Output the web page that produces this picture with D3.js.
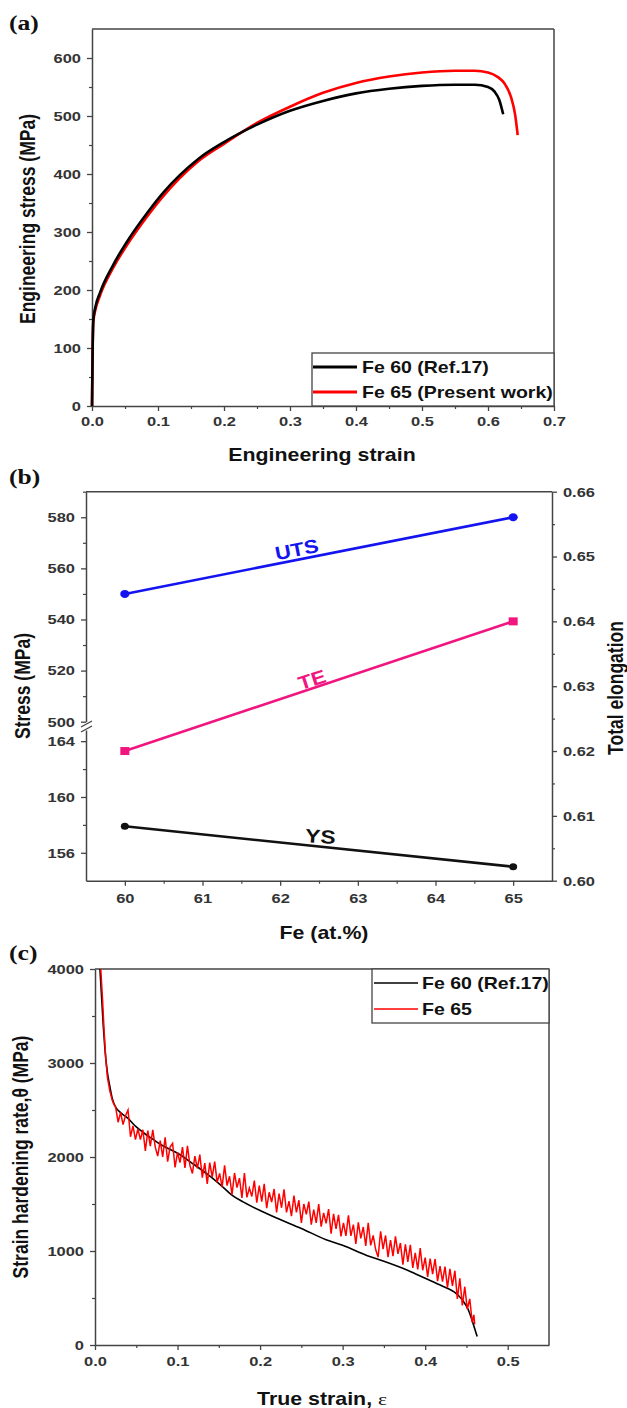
<!DOCTYPE html>
<html><head><meta charset="utf-8">
<script src="https://cdn.jsdelivr.net/npm/d3@7"></script>
<style>
body{margin:0;background:#fff;}
text{font-family:"Liberation Sans",Arial,sans-serif;font-weight:bold;}
</style></head>
<body>
<svg id="c" width="627" height="1408"></svg>
<script>
// ---------- Panel (a) data ----------
const fe60Eng = [[0,0],[0.001,100],[0.002,148],[0.005,170],[0.012,195],[0.032,243],[0.058,292],[0.083,332],[0.108,368],[0.133,398],[0.161,426],[0.2,455],[0.25,485],[0.3,509],[0.35,526],[0.4,539],[0.45,547],[0.5,552],[0.55,554],[0.58,554],[0.6,550],[0.61,542],[0.617,528],[0.623,503]];
const fe65Eng = [[0,0],[0.001,100],[0.002,145],[0.005,165],[0.012,190],[0.032,238],[0.058,286],[0.083,326],[0.108,362],[0.133,393],[0.161,422],[0.2,452],[0.25,488],[0.3,516],[0.35,540],[0.4,557],[0.45,568],[0.5,575],[0.55,578],[0.58,578],[0.6,575],[0.615,567],[0.625,556],[0.635,532],[0.641,503],[0.645,467]];
const legendA = ["Fe 60 (Ref.17)","Fe 65 (Present work)"];

// ---------- Panel (b) data ----------
const feContent = [60,65];
const utsVals = [550,580];
const teVals = [0.62,0.64];
const ysVals = [157.9,155.0];

// ---------- Panel (c) data ----------
const fe60Theta = [[0.006,4000],[0.008,3700],[0.010,3400],[0.012,3150],[0.015,2900],[0.018,2750],[0.021,2620],[0.025,2530],[0.03,2480],[0.04,2410],[0.05,2320],[0.06,2250],[0.07,2190],[0.08,2130],[0.1,2040],[0.12,1920],[0.14,1790],[0.155,1680],[0.165,1600],[0.18,1520],[0.2,1430],[0.22,1350],[0.25,1240],[0.28,1120],[0.3,1060],[0.33,950],[0.35,890],[0.38,790],[0.4,710],[0.42,630],[0.435,565],[0.445,480],[0.452,380],[0.458,230],[0.463,90]];
const fe65Theta = [[0.007,4000],[0.009,3700],[0.011,3350],[0.013,3050],[0.015,2850],[0.018,2700],[0.021,2600],[0.023,2560],
[0.025,2530],[0.028,2370],[0.031,2475],[0.034,2345],[0.037,2440],[0.040,2500],[0.043,2215],[0.046,2330],[0.049,2185],[0.052,2300],[0.055,2185],[0.058,2290],
[0.061,2065],[0.064,2280],[0.067,2115],[0.070,2290],[0.073,2105],[0.076,2010],[0.079,2175],[0.082,2000],[0.085,2210],[0.088,1950],[0.091,2105],[0.094,2145],[0.097,1890],[0.100,2050],[0.103,1940],[0.106,2105],[0.109,1885],[0.112,2120],[0.115,1910],[0.118,1825],[0.121,2010],[0.124,1880],[0.127,2025],[0.130,1780],[0.133,1935],[0.136,1715],[0.139,1940],[0.142,1785],[0.145,1950],[0.148,1730],[0.151,1825],[0.154,1680],[0.157,1910],[0.160,1695],[0.163,1795],[0.166,1600],[0.169,1830],[0.172,1675],[0.175,1775],[0.178,1565],[0.181,1830],[0.184,1570],[0.187,1670],[0.190,1580],[0.193,1750],[0.196,1515],[0.199,1695],[0.202,1525],[0.205,1715],[0.208,1455],[0.211,1625],[0.214,1520],[0.217,1660],[0.220,1410],[0.223,1610],[0.226,1460],[0.229,1655],[0.232,1410],[0.235,1530],[0.238,1370],[0.241,1590],[0.244,1410],[0.247,1540],[0.250,1300],[0.253,1500],[0.256,1390],[0.259,1525],[0.262,1280],[0.265,1440],[0.268,1300],[0.271,1500],[0.274,1260],[0.277,1405],[0.280,1295],[0.283,1445],[0.286,1185],[0.289,1395],[0.292,1235],[0.295,1385],[0.298,1155],[0.301,1300],[0.304,1160],[0.307,1380],[0.310,1160],[0.313,1280],[0.316,1075],[0.319,1305],[0.322,1135],[0.325,1255],[0.328,1055],[0.331,1300],[0.334,1060],[0.337,1165],[0.340,1015],[0.343,935],[0.346,1210],[0.349,1020],[0.352,1165],[0.355,935],[0.358,1115],[0.361,945],[0.364,1155],[0.367,970],[0.370,1085],[0.373,855],[0.376,1070],[0.379,885],[0.382,1065],[0.385,820],[0.388,980],[0.391,805],[0.394,1030],[0.397,795],[0.400,930],[0.403,725],[0.406,920],[0.409,755],[0.412,915],[0.415,680],[0.418,840],[0.421,675],[0.424,835],[0.427,610],[0.430,810],[0.433,630],[0.436,790],[0.439,490],[0.442,710],[0.445,420],[0.448,620],[0.451,380],[0.454,490],[0.457,240],[0.459,320],[0.460,220]];
const legendC = ["Fe 60 (Ref.17)","Fe 65"];

// tick labels
const ticksAx = [0,0.1,0.2,0.3,0.4,0.5,0.6,0.7];
const ticksAy = [0,100,200,300,400,500,600];
const ticksBx = [60,61,62,63,64,65];
const ticksByUpper = [500,520,540,560,580];
const ticksByLower = [156,160,164];
const ticksBr = [0.60,0.61,0.62,0.63,0.64,0.65,0.66];
const ticksCx = [0,0.1,0.2,0.3,0.4,0.5];
const ticksCy = [0,1000,2000,3000,4000];

const svg = d3.select("#c");
const AX = "#444";
const SX = 1.22; // horizontal stretch of the original figure
const TICKFS = "13.5px";
const TITLEFS = "17.5px";

function styleAxis(g){
  g.select(".domain").attr("stroke",AX).attr("stroke-width",1.5);
  g.selectAll(".tick line").attr("stroke",AX).attr("stroke-width",1.3);
  g.selectAll(".tick text").attr("fill","#333").attr("transform",`scale(${SX},1)`)
   .style("font-size",TICKFS).style("font-weight","bold")
   .style("font-family",'"Liberation Sans",Arial,sans-serif');
}
function minor(g){ g.select(".domain").remove(); g.selectAll("text").remove(); g.selectAll(".tick line").attr("stroke",AX).attr("stroke-width",1.2); }
function frame(x0,x1,y0,y1){
  svg.append("line").attr("x1",x0).attr("x2",x1).attr("y1",y0).attr("y2",y0).attr("stroke",AX).attr("stroke-width",1.5);
  svg.append("line").attr("x1",x1).attr("x2",x1).attr("y1",y0).attr("y2",y1).attr("stroke",AX).attr("stroke-width",1.5);
}
function txt(t,x,y,fs,anchor,fill){
  return svg.append("text").attr("transform",`translate(${x},${y}) scale(${SX},1)`)
    .attr("text-anchor",anchor||"start").style("font-size",fs).attr("fill",fill||"#111").text(t);
}
function panelLabel(t,x,y){
  txt(t,x,y,"21px").style("font-family",'"Liberation Serif","Times New Roman",serif');
}
function vTitle(t,x,y){
  svg.append("text").attr("transform",`translate(${x},${y}) rotate(-90) scale(1,${SX})`).attr("text-anchor","middle")
    .style("font-size",TITLEFS).attr("fill","#111").text(t);
}
function hTitle(t,x,y){ return txt(t,x,y,TITLEFS,"middle"); }

// =============== Panel (a) ===============
{
  const x = d3.scaleLinear().domain([0,0.7]).range([92,554]);
  const y = d3.scaleLinear().domain([0,650]).range([406,29]);
  frame(92,554,29,406);
  svg.append("g").attr("transform","translate(0,406)").call(d3.axisBottom(x).tickValues(d3.range(0.05,0.7,0.1)).tickSize(3).tickSizeOuter(0)).call(minor);
  svg.append("g").attr("transform","translate(92,0)").call(d3.axisLeft(y).tickValues(d3.range(50,650,100)).tickSize(3).tickSizeOuter(0)).call(minor);
  svg.append("g").attr("transform","translate(0,406)").call(d3.axisBottom(x).tickValues(ticksAx).tickFormat(d3.format(".1f")).tickSize(5).tickPadding(5).tickSizeOuter(0)).call(styleAxis);
  svg.append("g").attr("transform","translate(92,0)").call(d3.axisLeft(y).tickValues(ticksAy).tickSize(5).tickPadding(4).tickSizeOuter(0)).call(styleAxis);
  const line = d3.line().x(d=>x(d[0])).y(d=>y(d[1])).curve(d3.curveMonotoneX);
  svg.append("path").datum(fe65Eng).attr("d",line).attr("fill","none").attr("stroke","#ff0000").attr("stroke-width",2.6);
  svg.append("path").datum(fe60Eng).attr("d",line).attr("fill","none").attr("stroke","#000").attr("stroke-width",2.6);
  svg.append("rect").attr("x",312).attr("y",353).attr("width",242).attr("height",53).attr("fill","#fff").attr("stroke",AX).attr("stroke-width",1.3);
  const lc = ["#000","#ff0000"];
  legendA.forEach((t,i)=>{
    const ly = 367 + i*25;
    svg.append("line").attr("x1",313).attr("x2",357).attr("y1",ly).attr("y2",ly).attr("stroke",lc[i]).attr("stroke-width",2.8);
    txt(t,362,ly+6,"16px");
  });
  vTitle("Engineering stress (MPa)",35,219);
  hTitle("Engineering strain",322,461);
  panelLabel("(a)",9,30);
}

// =============== Panel (b) ===============
{
  const x = d3.scaleLinear().domain([59.5,65.5]).range([86,552]);
  const yU = d3.scaleLinear().domain([500,590]).range([721.7,491.7]);
  const yL = d3.scaleLinear().domain([154,164.8]).range([880.7,730]);
  const yR = d3.scaleLinear().domain([0.60,0.66]).range([880.7,491.7]);
  svg.append("line").attr("x1",86).attr("x2",552).attr("y1",491.7).attr("y2",491.7).attr("stroke",AX).attr("stroke-width",1.5);
  svg.append("g").attr("transform","translate(0,880.7)").call(d3.axisBottom(x).tickValues(d3.range(60.5,65.5,1)).tickSize(3).tickSizeOuter(0)).call(minor);
  svg.append("g").attr("transform","translate(86,0)").call(d3.axisLeft(yU).tickValues([510,530,550,570,590]).tickSize(3).tickSizeOuter(0)).call(minor);
  svg.append("g").attr("transform","translate(86,0)").call(d3.axisLeft(yL).tickValues([158,162]).tickSize(3).tickSizeOuter(0)).call(minor);
  svg.append("g").attr("transform","translate(552,0)").call(d3.axisRight(yR).tickValues(d3.range(0.605,0.66,0.01)).tickSize(3).tickSizeOuter(0)).call(minor);
  svg.append("g").attr("transform","translate(0,880.7)").call(d3.axisBottom(x).tickValues(ticksBx).tickFormat(d3.format("d")).tickSize(5).tickPadding(8).tickSizeOuter(0)).call(styleAxis);
  svg.append("g").attr("transform","translate(86,0)").call(d3.axisLeft(yU).tickValues(ticksByUpper).tickSize(5).tickPadding(4).tickSizeOuter(0)).call(styleAxis);
  svg.append("g").attr("transform","translate(86,0)").call(d3.axisLeft(yL).tickValues(ticksByLower).tickSize(5).tickPadding(4).tickSizeOuter(0)).call(styleAxis);
  svg.append("g").attr("transform","translate(552,0)").call(d3.axisRight(yR).tickValues(ticksBr).tickFormat(d3.format(".2f")).tickSize(5).tickPadding(4).tickSizeOuter(0)).call(styleAxis);
  [0,5].forEach(o=>{
    svg.append("line").attr("x1",81).attr("x2",92).attr("y1",727+o).attr("y2",721+o).attr("stroke",AX).attr("stroke-width",1.3);
  });
  const uts = feContent.map((f,i)=>[x(f),yU(utsVals[i])]);
  const te = feContent.map((f,i)=>[x(f),yR(teVals[i])]);
  const ys = feContent.map((f,i)=>[x(f),yL(ysVals[i])]);
  const ln = d3.line();
  const BLUE="#1414f0", PINK="#f0157f";
  svg.append("path").attr("d",ln(uts)).attr("stroke",BLUE).attr("stroke-width",2.6).attr("fill","none");
  svg.append("path").attr("d",ln(te)).attr("stroke",PINK).attr("stroke-width",2.6).attr("fill","none");
  svg.append("path").attr("d",ln(ys)).attr("stroke","#111").attr("stroke-width",2.6).attr("fill","none");
  uts.forEach(p=>svg.append("ellipse").attr("cx",p[0]).attr("cy",p[1]).attr("rx",4.6).attr("ry",4).attr("fill",BLUE));
  ys.forEach(p=>svg.append("ellipse").attr("cx",p[0]).attr("cy",p[1]).attr("rx",4).attr("ry",3.5).attr("fill","#111"));
  te.forEach(p=>svg.append("rect").attr("x",p[0]-4.5).attr("y",p[1]-4).attr("width",9).attr("height",8).attr("fill",PINK));
  svg.append("text").attr("transform","translate(298,556) rotate(-11) scale(1.15,1)").attr("text-anchor","middle").style("font-size","19px").attr("fill",BLUE).text("UTS");
  svg.append("text").attr("transform","translate(314,686) rotate(-18) scale(1.15,1)").attr("text-anchor","middle").style("font-size","19px").attr("fill",PINK).text("TE");
  svg.append("text").attr("transform","translate(320,843) rotate(4) scale(1.2,1)").attr("text-anchor","middle").style("font-size","19px").attr("fill","#111").text("YS");
  vTitle("Stress (MPa)",30,686);
  svg.append("text").attr("transform",`translate(623,688) rotate(-90) scale(1,${SX})`).attr("text-anchor","middle").style("font-size",TITLEFS).attr("fill","#111").text("Total elongation");
  hTitle("Fe (at.%)",324,939);
  panelLabel("(b)",9,484);
}

// =============== Panel (c) ===============
{
  const x = d3.scaleLinear().domain([0,0.55]).range([95,549]);
  const y = d3.scaleLinear().domain([0,4000]).range([1345,969]);
  frame(95,549,969,1345);
  svg.append("g").attr("transform","translate(0,1345)").call(d3.axisBottom(x).tickValues(d3.range(0.05,0.55,0.1)).tickSize(3).tickSizeOuter(0)).call(minor);
  svg.append("g").attr("transform","translate(95,0)").call(d3.axisLeft(y).tickValues(d3.range(500,4000,1000)).tickSize(3).tickSizeOuter(0)).call(minor);
  svg.append("g").attr("transform","translate(0,1345)").call(d3.axisBottom(x).tickValues(ticksCx).tickFormat(d3.format(".1f")).tickSize(5).tickPadding(6).tickSizeOuter(0)).call(styleAxis);
  svg.append("g").attr("transform","translate(95,0)").call(d3.axisLeft(y).tickValues(ticksCy).tickFormat(d3.format("d")).tickSize(5).tickPadding(4).tickSizeOuter(0)).call(styleAxis);
  svg.append("path").datum(fe60Theta).attr("d",d3.line().x(d=>x(d[0])).y(d=>y(d[1])).curve(d3.curveMonotoneX)).attr("fill","none").attr("stroke","#000").attr("stroke-width",1.6);
  svg.append("path").datum(fe65Theta).attr("d",d3.line().x(d=>x(d[0])).y(d=>y(d[1]))).attr("fill","none").attr("stroke","#ff0000").attr("stroke-width",1.5);
  svg.append("rect").attr("x",372).attr("y",969).attr("width",177).attr("height",54).attr("fill","#fff").attr("stroke",AX).attr("stroke-width",1.3);
  const lc = ["#000","#ff0000"];
  legendC.forEach((t,i)=>{
    const ly = 983 + i*26;
    svg.append("line").attr("x1",374).attr("x2",418).attr("y1",ly).attr("y2",ly).attr("stroke",lc[i]).attr("stroke-width",1.6);
    txt(t,422,ly+6,"16px");
  });
  vTitle("Strain hardening rate,θ (MPa)",28,1157);
  const t = hTitle("True strain, ",322,1405);
  t.append("tspan").style("font-family",'"Liberation Serif","Times New Roman",serif').style("font-weight","normal").text("ε");
  panelLabel("(c)",9,960);
}
</script>
</body></html>
